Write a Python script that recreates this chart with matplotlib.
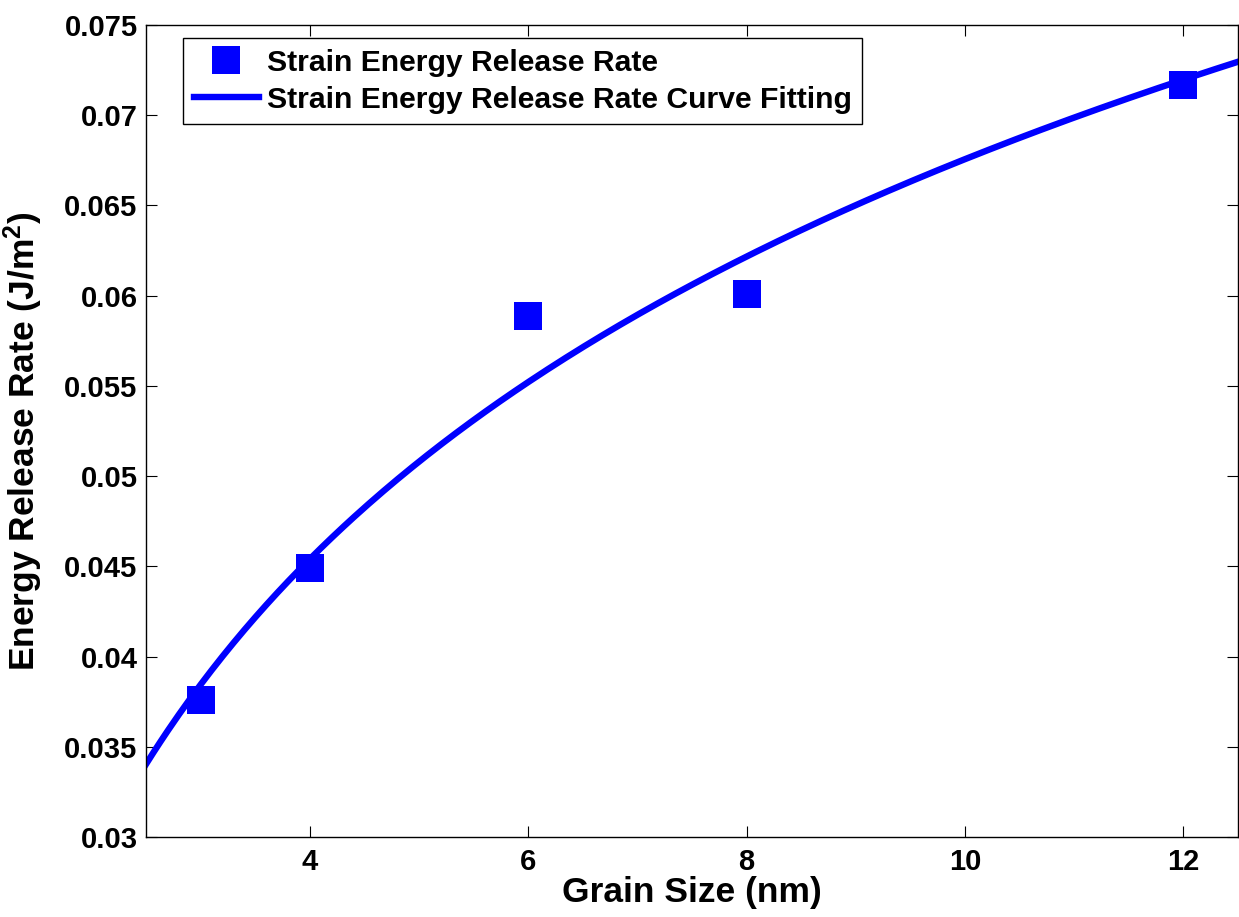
import numpy as np
import matplotlib
matplotlib.use("Agg")
import matplotlib.pyplot as plt

plt.rcParams['font.family'] = ['Liberation Sans', 'DejaVu Sans']
plt.rcParams['font.weight'] = 'bold'
plt.rcParams['mathtext.fontset'] = 'custom'
plt.rcParams['mathtext.rm'] = 'Liberation Sans:bold'
plt.rcParams['mathtext.default'] = 'rm'

# measured energy release rate vs grain size
grain_size = [3, 4, 6, 8, 12]
release_rate = [0.0376, 0.0449, 0.0589, 0.0601, 0.0717]

x_ticks = [4, 6, 8, 10, 12]
y_ticks = [0.03, 0.035, 0.04, 0.045, 0.05, 0.055, 0.06, 0.065, 0.07, 0.075]

# logarithmic least-squares fit  G = a + b*ln(d)
b, a = np.polyfit(np.log(grain_size), release_rate, 1)
d_fit = np.linspace(2.5, 12.5, 300)
g_fit = a + b * np.log(d_fit)

fig = plt.figure(figsize=(12.39, 9.17), dpi=100)
ax = fig.add_axes([0.1178, 0.0872, 0.8814, 0.8855])

blue = (0, 0, 1)
ax.plot(grain_size, release_rate, 's', color=blue, markersize=19.5,
        markeredgewidth=0, label='Strain Energy Release Rate', zorder=3)
ax.plot(d_fit, g_fit, '-', color=blue, linewidth=4.6,
        label='Strain Energy Release Rate Curve Fitting', zorder=2)

ax.set_xlim(2.5, 12.5)
ax.set_ylim(0.03, 0.075)
ax.set_xticks(x_ticks)
ax.set_yticks(y_ticks)
ax.set_xticklabels([f'{v:g}' for v in x_ticks])
ax.set_yticklabels([f'{v:g}' for v in y_ticks])

ax.tick_params(direction='in', length=8, width=0.8, top=True, right=True,
               labelsize=21)
ax.tick_params(axis='x', pad=8)
ax.tick_params(axis='y', pad=6)
for lab in ax.get_xticklabels() + ax.get_yticklabels():
    lab.set_fontweight('bold')
for s in ax.spines.values():
    s.set_linewidth(1.0)

ax.set_xlabel('Grain Size (nm)', fontsize=25.5, fontweight='bold', labelpad=0)
ax.set_ylabel('Energy Release Rate (J/m$^2$)', fontsize=25.5, fontweight='bold')
ax.yaxis.set_label_coords(-0.092, 0.487)

leg = ax.legend(loc='upper left', bbox_to_anchor=(0.0339, 0.984),
                borderaxespad=0, frameon=True, fancybox=False,
                edgecolor='black', framealpha=1, handlelength=2.16,
                handletextpad=0.27, labelspacing=0.3, borderpad=0.35,
                prop={'weight': 'bold', 'size': 21.7})
leg.get_frame().set_linewidth(1.0)

fig.savefig('out.png', dpi=100)
